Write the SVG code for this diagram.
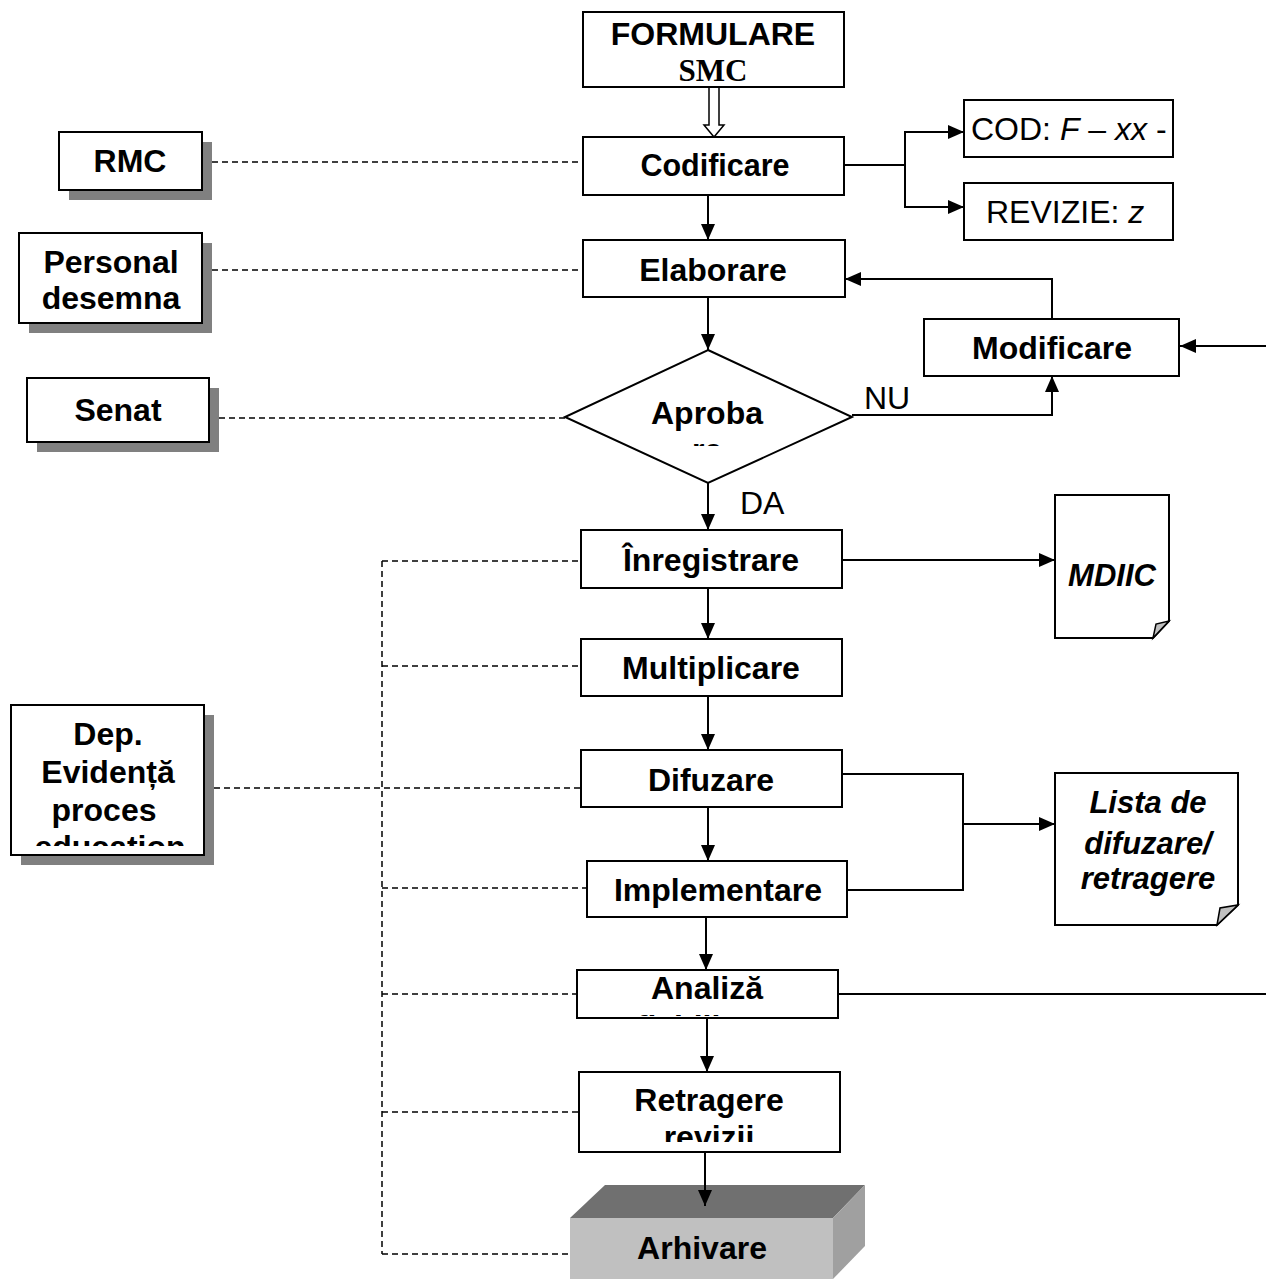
<svg xmlns="http://www.w3.org/2000/svg" width="1266" height="1279" viewBox="0 0 1266 1279">
  <style>
    .box { fill: #ffffff; stroke: #000000; stroke-width: 2; }
    .shadow { fill: #808080; stroke: none; }
    .t { font-family: "Liberation Sans", Arial, sans-serif; font-size: 32px; font-weight: bold; fill: #000000; text-anchor: middle; }
    .n { font-family: "Liberation Sans", Arial, sans-serif; font-size: 32px; fill: #000000; }
    .bi { font-family: "Liberation Sans", Arial, sans-serif; font-size: 31px; font-weight: bold; font-style: italic; fill: #000000; text-anchor: middle; }
    .line { fill: none; stroke: #000000; stroke-width: 2; }
    .arrow { fill: none; stroke: #000000; stroke-width: 2; marker-end: url(#head); }
    .dash { fill: none; stroke: #000000; stroke-width: 1.5; stroke-dasharray: 6 4; }
  </style>
  <defs>
    <marker id="head" markerUnits="userSpaceOnUse" markerWidth="17" markerHeight="15" refX="16" refY="7" orient="auto">
      <path d="M0,0 L16,7 L0,14 z" fill="#000000"/>
    </marker>
    <clipPath id="clipAproba"><rect x="560" y="350" width="300" height="96"/></clipPath>
    <clipPath id="clipAnaliza"><rect x="577" y="970" width="261" height="46"/></clipPath>
    <clipPath id="clipRetragere"><rect x="579" y="1072" width="261" height="70"/></clipPath>
    <clipPath id="clipDep"><rect x="11" y="705" width="193" height="141"/></clipPath>
  </defs>

  <rect width="1266" height="1279" fill="#ffffff"/>

  <!-- archive block sits under the incoming arrow -->
  <g id="arhivare">
    <polygon points="570,1218 605,1185 865,1185 833,1218" fill="#707070"/>
    <polygon points="833,1218 865,1185 865,1246 833,1279" fill="#a0a0a0"/>
    <rect x="570" y="1218" width="263" height="61" fill="#c0c0c0"/>
    <text class="t" x="702" y="1259">Arhivare</text>
  </g>

  <!-- connectors -->
  <g id="connectors">
    <!-- hollow arrow from the forms box -->
    <polygon points="709,87 719,87 719,125 724,125 714,137 704,125 709,125" fill="#ffffff" stroke="#000000" stroke-width="1.5"/>
    <!-- main vertical flow -->
    <line class="arrow" x1="708" y1="195" x2="708" y2="240"/>
    <line class="arrow" x1="708" y1="297" x2="708" y2="350"/>
    <line class="arrow" x1="708" y1="483" x2="708" y2="530"/>
    <line class="arrow" x1="708" y1="588" x2="708" y2="639"/>
    <line class="arrow" x1="708" y1="696" x2="708" y2="750"/>
    <line class="arrow" x1="708" y1="807" x2="708" y2="861"/>
    <line class="arrow" x1="706" y1="917" x2="706" y2="970"/>
    <line class="arrow" x1="707" y1="1018" x2="707" y2="1072"/>
    <line class="arrow" x1="705" y1="1152" x2="705" y2="1206"/>
    <!-- coding branches -->
    <polyline class="line" points="844,165 905,165"/>
    <polyline class="arrow" points="905,165 905,132 964,132"/>
    <polyline class="arrow" points="905,165 905,207 964,207"/>
    <!-- rejection loop -->
    <polyline class="arrow" points="852,415 1052,415 1052,376"/>
    <polyline class="arrow" points="1052,319 1052,279 845,279"/>
    <line class="arrow" x1="1266" y1="346" x2="1180" y2="346"/>
    <!-- documents -->
    <line class="arrow" x1="842" y1="560" x2="1055" y2="560"/>
    <polyline class="line" points="842,774 963,774 963,890 847,890"/>
    <line class="arrow" x1="963" y1="824" x2="1055" y2="824"/>
    <line class="line" x1="838" y1="994" x2="1266" y2="994"/>
    <!-- responsibility links -->
    <line class="dash" x1="202" y1="162" x2="583" y2="162"/>
    <line class="dash" x1="202" y1="270" x2="583" y2="270"/>
    <line class="dash" x1="209" y1="418" x2="565" y2="418"/>
    <line class="dash" x1="204" y1="788" x2="581" y2="788"/>
    <line class="dash" x1="382" y1="561" x2="382" y2="1254"/>
    <line class="dash" x1="382" y1="561" x2="581" y2="561"/>
    <line class="dash" x1="382" y1="666" x2="581" y2="666"/>
    <line class="dash" x1="382" y1="888" x2="587" y2="888"/>
    <line class="dash" x1="382" y1="994" x2="577" y2="994"/>
    <line class="dash" x1="382" y1="1112" x2="579" y2="1112"/>
    <line class="dash" x1="382" y1="1254" x2="570" y2="1254"/>
  </g>

  <g id="formulare">
    <rect class="box" x="583" y="12" width="261" height="75"/>
    <text class="t" x="713" y="45">FORMULARE</text>
    <text x="713" y="81" text-anchor="middle" font-family="'Liberation Serif', 'Times New Roman', serif" font-size="31" font-weight="bold">SMC</text>
  </g>

  <g id="codificare">
    <rect class="box" x="583" y="137" width="261" height="58"/>
    <text class="t" x="715" y="176" style="font-size:30.5px">Codificare</text>
  </g>

  <g id="cod">
    <rect class="box" x="964" y="100" width="209" height="57"/>
    <text class="n" x="971" y="140">COD: <tspan font-style="italic">F</tspan> – <tspan font-style="italic">xx</tspan> -</text>
  </g>

  <g id="revizie">
    <rect class="box" x="964" y="183" width="209" height="57"/>
    <text class="n" x="986" y="223">REVIZIE: <tspan font-style="italic">z</tspan></text>
  </g>

  <g id="elaborare">
    <rect class="box" x="583" y="240" width="262" height="57"/>
    <text class="t" x="713" y="281">Elaborare</text>
  </g>

  <g id="modificare">
    <rect class="box" x="924" y="319" width="255" height="57"/>
    <text class="t" x="1052" y="359">Modificare</text>
  </g>

  <g id="aprobare">
    <polygon points="708,350 852,417 708,483 565,417" fill="#ffffff" stroke="#000000" stroke-width="2"/>
    <g clip-path="url(#clipAproba)">
      <text class="t" x="707" y="424">Aproba</text>
      <text class="t" x="707" y="461">re</text>
    </g>
  </g>

  <text class="n" x="864" y="409">NU</text>
  <text class="n" x="740" y="514">DA</text>

  <g id="rmc">
    <rect class="shadow" x="69" y="142" width="143" height="58"/>
    <rect class="box" x="59" y="132" width="143" height="58"/>
    <text class="t" x="130" y="172">RMC</text>
  </g>

  <g id="personal">
    <rect class="shadow" x="29" y="243" width="183" height="90"/>
    <rect class="box" x="19" y="233" width="183" height="90"/>
    <text class="t" x="111" y="273">Personal</text>
    <text class="t" x="111" y="309">desemna</text>
  </g>

  <g id="senat">
    <rect class="shadow" x="37" y="388" width="182" height="64"/>
    <rect class="box" x="27" y="378" width="182" height="64"/>
    <text class="t" x="118" y="421">Senat</text>
  </g>

  <g id="dep">
    <rect class="shadow" x="21" y="715" width="193" height="150"/>
    <rect class="box" x="11" y="705" width="193" height="150"/>
    <g clip-path="url(#clipDep)">
      <text class="t" x="108" y="745">Dep.</text>
      <text class="t" x="108" y="783">Evidență</text>
      <text class="t" x="104" y="821">proces</text>
      <text class="t" x="110" y="858">education</text>
    </g>
  </g>

  <g id="inregistrare">
    <rect class="box" x="581" y="530" width="261" height="58"/>
    <text class="t" x="711" y="571">Înregistrare</text>
  </g>

  <g id="mdiic">
    <path d="M1055,495 L1169,495 L1169,621 L1153,638 L1055,638 Z" fill="#ffffff" stroke="#000000" stroke-width="2"/>
    <path d="M1169,621 L1153,638 L1156,624 Z" fill="#c0c0c0" stroke="#000000" stroke-width="1.5"/>
    <text class="bi" x="1112" y="586">MDIIC</text>
  </g>

  <g id="multiplicare">
    <rect class="box" x="581" y="639" width="261" height="57"/>
    <text class="t" x="711" y="679">Multiplicare</text>
  </g>

  <g id="difuzare">
    <rect class="box" x="581" y="750" width="261" height="57"/>
    <text class="t" x="711" y="791">Difuzare</text>
  </g>

  <g id="lista">
    <path d="M1055,773 L1238,773 L1238,905 L1217,925 L1055,925 Z" fill="#ffffff" stroke="#000000" stroke-width="2"/>
    <path d="M1238,905 L1217,925 L1220,908 Z" fill="#c0c0c0" stroke="#000000" stroke-width="1.5"/>
    <text class="bi" x="1148" y="813">Lista de</text>
    <text class="bi" x="1148" y="854">difuzare/</text>
    <text class="bi" x="1148" y="889">retragere</text>
  </g>

  <g id="implementare">
    <rect class="box" x="587" y="861" width="260" height="56"/>
    <text class="t" x="718" y="901">Implementare</text>
  </g>

  <g id="analiza">
    <rect class="box" x="577" y="970" width="261" height="48"/>
    <g clip-path="url(#clipAnaliza)">
      <text class="t" x="707" y="999">Analiză</text>
      <text class="t" x="707" y="1038">fiabilitate</text>
    </g>
  </g>

  <g id="retragere">
    <rect class="box" x="579" y="1072" width="261" height="80"/>
    <g clip-path="url(#clipRetragere)">
      <text class="t" x="709" y="1111">Retragere</text>
      <text class="t" x="709" y="1148">revizii</text>
    </g>
  </g>
</svg>
